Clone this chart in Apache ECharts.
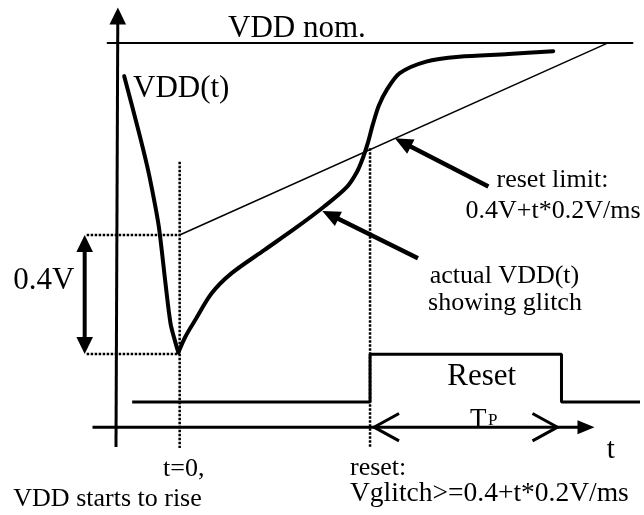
<!DOCTYPE html>
<html><head><meta charset="utf-8">
<script src="https://cdn.jsdelivr.net/npm/echarts@6/dist/echarts.min.js"></script>
<style>html,body{margin:0;padding:0;background:#fff}#c{width:644px;height:515px}</style>
</head><body><div id="c"></div>
<script>
// time t in ms (t = 0 where VDD starts to rise), voltage in V
const vddFall = [[-0.418,1.934],[-0.306,1.743],[-0.244,1.630],[-0.207,1.551],[-0.157,1.428],[-0.107,1.238],[-0.069,1.103],[-0.036,1.045],[-0.010,1.005]];
const vddRise = [[-0.010,1.005],[0.043,1.058],[0.117,1.114],[0.241,1.204],[0.390,1.271],[0.640,1.350],[0.888,1.428],[1.087,1.495],[1.261,1.562],[1.336,1.612],[1.381,1.659],[1.418,1.709],[1.455,1.770],[1.500,1.834],[1.560,1.887],[1.659,1.944],[1.858,1.983],[2.107,1.999],[2.480,2.008],[2.816,2.018]];
const vddNominal = 2.045;
const nominalSpan = [-0.543, 3.413];
const resetLimit = [[0,1.4],[3.225,2.045]];          // 0.4V + t*0.2V/ms above the glitch minimum
const tReset = 1.435, tResetEnd = 2.878;
const resetSignal = [[-0.358,0],[tReset,0],[tReset,1],[tResetEnd,1],[tResetEnd,0],[3.47,0]];
const tZeroMarker = [[0,1.646],[0,0.684]];
const resetMarker = [[tReset,1.692],[tReset,0.684]];
const guideHigh = [[-0.701,1.4],[0,1.4]];
const guideLow = [[-0.701,1.0],[0,1.0]];
const vAxisArrow = [[-0.480,0.687,-0.466,2.165]];
const tAxisLevel = 0.754;
const tAxisArrow = [[-0.657,tAxisLevel,3.127,tAxisLevel]];
const deltaArrow = [[-0.716,1.0,-0.716,1.4]];
const pointers = [[2.327,1.563,1.622,1.725],[1.796,1.322,1.075,1.481]];

const FONT = '"Liberation Serif","Times New Roman",serif';
function arrowRender(o){
  return function(params, api){
    const a = api.coord([api.value(0), api.value(1)]);
    const b = api.coord([api.value(2), api.value(3)]);
    const dx=b[0]-a[0], dy=b[1]-a[1], L=Math.hypot(dx,dy), ux=dx/L, uy=dy/L, nx=-uy, ny=ux;
    const head=(tip,dx2,dy2)=>{const bx=tip[0]-dx2*o.len, by=tip[1]-dy2*o.len;
      return {type:'polygon',shape:{points:[tip,[bx+nx*o.half,by+ny*o.half],[bx-nx*o.half,by-ny*o.half]]},style:{fill:'#000'}};};
    const s = o.both ? [a[0]+ux*o.len*0.8,a[1]+uy*o.len*0.8] : a;
    const e = [b[0]-ux*o.len*0.8,b[1]-uy*o.len*0.8];
    const ch=[{type:'line',shape:{x1:s[0],y1:s[1],x2:e[0],y2:e[1]},style:{stroke:'#000',lineWidth:o.width}},head(b,ux,uy)];
    if(o.both) ch.push(head(a,-ux,-uy));
    return {type:'group',children:ch};
  };
}
function chevronRender(params, api){
  const p1 = api.coord([api.value(0), api.value(2)]);
  const p2 = api.coord([api.value(1), api.value(2)]);
  const off=4, len=25, h=13.7;
  const l=[p1[0]+off,p1[1]], r=[p2[0]-off,p2[1]];
  const st={stroke:'#000',lineWidth:3,fill:null};
  return {type:'group',children:[
    {type:'polyline',shape:{points:[[l[0]+len,l[1]-h],l,[l[0]+len,l[1]+h]]},style:st},
    {type:'polyline',shape:{points:[[r[0]-len,r[1]-h],r,[r[0]-len,r[1]+h]]},style:st}
  ]};
}
function line(data, w, extra){
  return Object.assign({type:'line',data,symbol:'none',clip:false,silent:true,
    lineStyle:{color:'#000',width:w,join:'round',cap:'round'}},extra||{});
}
function dotted(data){ return line(data,2.5,{lineStyle:{color:'#000',width:2.5,type:[2.5,1.5]}}); }
function txt(s,x,baseline,size,align){
  return {type:'text',x:x,y:baseline-0.26*size,silent:true,
    style:{text:s,font:size+'px '+FONT,fill:'#000',align:align||'left',verticalAlign:'middle'}};
}

const chart = echarts.init(document.getElementById('c'), null, {renderer:'canvas'});
chart.setOption({
  animation:false,
  backgroundColor:'#fff',
  grid:[{left:47,width:603,top:11.875,height:490.875},{left:47,width:603,top:354.3,height:47.7}],
  xAxis:[{type:'value',min:-1,max:3.5,show:false,gridIndex:0},{type:'value',min:-1,max:3.5,show:false,gridIndex:1}],
  yAxis:[{type:'value',min:0.5,max:2.15,show:false,gridIndex:0},{type:'value',min:0,max:1,show:false,gridIndex:1}],
  series:[
    line([[nominalSpan[0],vddNominal],[nominalSpan[1],vddNominal]],2),
    line(resetLimit,1.5),
    dotted(tZeroMarker), dotted(resetMarker), dotted(guideHigh), dotted(guideLow),
    line(vddFall,4,{smooth:0.3}),
    line(vddRise,4,{smooth:0.3}),
    line(resetSignal,3,{xAxisIndex:1,yAxisIndex:1,lineStyle:{color:'#000',width:3}}),
    {type:'custom',data:vAxisArrow,renderItem:arrowRender({width:3,len:17,half:8.3}),encode:{x:[0,2],y:[1,3]},silent:true},
    {type:'custom',data:tAxisArrow,renderItem:arrowRender({width:3,len:17,half:7}),encode:{x:[0,2],y:[1,3]},silent:true},
    {type:'custom',data:deltaArrow,renderItem:arrowRender({width:4,len:17,half:8.3,both:true}),encode:{x:[0,2],y:[1,3]},silent:true},
    {type:'custom',data:pointers,renderItem:arrowRender({width:4.5,len:18,half:8}),encode:{x:[0,2],y:[1,3]},silent:true},
    {type:'custom',data:[[tReset,tResetEnd,tAxisLevel]],renderItem:chevronRender,encode:{x:[0,1],y:2},silent:true}
  ],
  graphic:[
    txt('VDD nom.',228,37.3,31),
    txt('VDD(t)',133,96.7,31),
    txt('reset limit:',552.5,186.7,26,'center'),
    txt('0.4V+t*0.2V/ms',553,218.3,26,'center'),
    txt('actual VDD(t)',504.5,283.3,26,'center'),
    txt('showing glitch',505,310,26,'center'),
    txt('0.4V',13.3,289.3,31),
    txt('Reset',481.7,385,31,'center'),
    txt('T',470,426.7,27),
    txt('P',488,425,17),
    txt('t',606.7,458.3,29),
    txt('t=0,',163,475.7,26),
    txt('VDD starts to rise',13.3,506,26),
    txt('reset:',350,475,26),
    txt('Vglitch>=0.4+t*0.2V/ms',350,500.7,27.5)
  ]
});
</script></body></html>
